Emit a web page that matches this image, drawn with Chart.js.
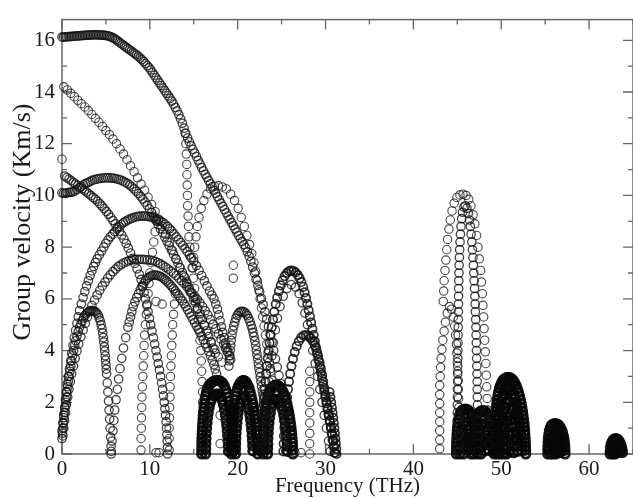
<!DOCTYPE html>
<html>
<head>
<meta charset="utf-8">
<script src="https://cdn.jsdelivr.net/npm/chart.js@4.4.1/dist/chart.umd.min.js"></script>
<style>
html,body{margin:0;padding:0;background:#fff;overflow:hidden;}
canvas{display:block;}
</style>
</head>
<body>
<canvas id="c" width="640" height="498"></canvas>
<script>
// ---- axis ticks / labels ----
const xTickValues = [0, 10, 20, 30, 40, 50, 60];
const yTickValues = [0, 2, 4, 6, 8, 10, 12, 14, 16];
const xLabel = 'Frequency (THz)';
const yLabel = 'Group velocity (Km/s)';

// ---- branches: [frequency THz, group velocity km/s] ----
const bTop = [[0,16.12],[0.18,16.12],[0.36,16.13],[0.54,16.13],[0.72,16.14],[0.9,16.14],[1.08,16.15],[1.26,16.15],[1.44,16.16],[1.62,16.16],[1.8,16.17],[1.98,16.17],[2.16,16.18],[2.34,16.18],[2.52,16.19],[2.7,16.19],[2.88,16.2],[3.06,16.2],[3.24,16.2],[3.42,16.21],[3.6,16.21],[3.78,16.21],[3.96,16.21],[4.14,16.21],[4.32,16.2],[4.5,16.2],[4.68,16.2],[4.86,16.19],[5.04,16.18],[5.22,16.17],[5.4,16.15],[5.58,16.13],[5.76,16.1],[5.94,16.07],[6.12,16.03],[6.3,15.98],[6.5,15.93],[6.7,15.88],[6.9,15.83],[7.1,15.78],[7.3,15.73],[7.5,15.68],[7.7,15.63],[7.9,15.58],[8.1,15.53],[8.3,15.48],[8.5,15.43],[8.7,15.37],[8.9,15.31],[9.1,15.25],[9.3,15.18],[9.5,15.1],[9.7,15.02],[9.9,14.94],[10.1,14.85],[10.3,14.75],[10.5,14.65],[10.7,14.55],[10.9,14.45],[11.1,14.35],[11.3,14.25],[11.5,14.15],[11.7,14.05],[11.9,13.95],[12.1,13.85],[12.3,13.75],[12.5,13.65],[12.7,13.53],[12.9,13.4],[13.1,13.27],[13.3,13.12],[13.5,12.96],[13.7,12.79],[13.9,12.6],[14.1,12.4],[14.3,12.22],[14.5,12.07],[14.7,11.92],[14.9,11.78],[15.1,11.64],[15.3,11.5],[15.5,11.36],[15.7,11.22],[15.9,11.08],[16.1,10.95],[16.3,10.82],[16.5,10.7],[16.7,10.57],[16.9,10.45],[17.1,10.33],[17.3,10.2],[17.5,10.08],[17.7,9.95],[17.9,9.83],[18.1,9.7],[18.3,9.58],[18.5,9.45],[18.7,9.33],[18.9,9.2],[19.1,9.08],[19.3,8.95],[19.5,8.83],[19.7,8.7],[19.9,8.58],[20.1,8.45],[20.3,8.33],[20.5,8.22],[20.7,8.1],[20.9,7.98],[21.1,7.82],[21.3,7.65],[21.5,7.45],[21.7,7.23],[21.9,7.0],[22.1,6.76],[22.3,6.52],[22.5,6.27],[22.7,6.02],[22.9,5.77],[23.1,5.5],[23.3,5.22],[23.5,4.93],[23.7,4.63],[23.9,4.32],[24.1,4.0],[24.3,3.68],[24.5,3.36],[24.7,3.04],[24.9,2.72],[25.1,2.4],[25.3,2.08],[25.5,1.76],[25.7,1.44],[25.9,1.12],[26.1,0.8],[26.3,0.48]];
const bSecond = [[0.2,14.2],[0.6,14.08],[1.0,13.95],[1.4,13.82],[1.8,13.68],[2.2,13.55],[2.6,13.42],[3.0,13.28],[3.4,13.13],[3.8,12.98],[4.2,12.83],[4.6,12.67],[5.0,12.51],[5.4,12.35],[5.8,12.18],[6.2,12.0],[6.6,11.8],[7.0,11.6],[7.4,11.38],[7.8,11.15],[8.2,10.92],[8.6,10.68],[9.0,10.44],[9.4,10.2],[9.8,9.93],[10.2,9.65],[10.6,9.37],[11.0,9.08],[11.4,8.8],[11.8,8.5],[12.2,8.18],[12.6,7.86],[13.0,7.54],[13.4,7.22],[13.8,6.9],[14.2,6.58],[14.6,6.26],[15.0,5.94],[15.4,5.62],[15.8,5.3],[16.2,4.98],[16.6,4.66],[17.0,4.34],[17.4,4.04],[17.8,3.76],[18.2,3.55]];
const bFall107 = [[0.3,10.75],[0.55,10.69],[0.8,10.63],[1.05,10.57],[1.3,10.5],[1.55,10.44],[1.8,10.38],[2.05,10.32],[2.3,10.26],[2.55,10.2],[2.8,10.13],[3.05,10.06],[3.3,9.99],[3.55,9.92],[3.8,9.85],[4.05,9.77],[4.3,9.68],[4.55,9.59],[4.8,9.49],[5.05,9.38],[5.3,9.27],[5.55,9.15],[5.8,9.03],[6.05,8.9],[6.3,8.77],[6.55,8.62],[6.8,8.47],[7.05,8.31],[7.3,8.14],[7.55,7.96],[7.8,7.77],[8.05,7.57],[8.3,7.37],[8.55,7.16],[8.8,6.95],[9.0,6.75],[9.2,6.5],[9.35,6.25],[9.5,6.0],[9.65,5.75],[9.8,5.5],[9.95,5.25],[10.1,5.0],[10.25,4.75],[10.4,4.5],[10.55,4.25],[10.7,4.0],[10.83,3.75],[10.96,3.5],[11.09,3.25],[11.22,3.0],[11.34,2.75],[11.45,2.5],[11.55,2.25],[11.64,2.0],[11.72,1.75],[11.79,1.5],[11.85,1.25],[11.9,1.0],[11.94,0.75],[11.97,0.5],[12.0,0.25],[12.02,0.0]];
const bArc106 = [[0,10.1],[0.2,10.08],[0.4,10.08],[0.6,10.1],[0.8,10.12],[1.0,10.12],[1.2,10.13],[1.45,10.17],[1.7,10.23],[1.95,10.29],[2.2,10.35],[2.45,10.41],[2.7,10.46],[2.95,10.5],[3.2,10.54],[3.45,10.58],[3.7,10.61],[3.95,10.63],[4.2,10.65],[4.45,10.66],[4.7,10.67],[4.95,10.68],[5.2,10.68],[5.45,10.68],[5.7,10.67],[5.95,10.66],[6.2,10.64],[6.45,10.62],[6.7,10.59],[6.95,10.55],[7.2,10.51],[7.45,10.46],[7.7,10.4],[7.95,10.33],[8.2,10.25],[8.45,10.16],[8.7,10.07],[8.95,9.97],[9.2,9.86],[9.45,9.74],[9.7,9.62],[9.95,9.48],[10.2,9.34],[10.45,9.19],[10.7,9.03],[10.95,8.87],[11.2,8.71],[11.45,8.55],[11.7,8.39],[11.95,8.23],[12.2,8.06],[12.45,7.89],[12.7,7.72],[12.95,7.55],[13.2,7.38],[13.45,7.2],[13.7,7.02],[13.95,6.84],[14.2,6.65],[14.45,6.45],[14.7,6.25],[14.95,6.05],[15.2,5.85],[15.45,5.64],[15.7,5.42],[15.95,5.2],[16.2,4.98],[16.45,4.76],[16.7,4.54],[16.95,4.32],[17.2,4.1],[17.45,3.9]];
const bArc92 = [[0,0.9],[0.1,1.2],[0.2,1.5],[0.3,1.8],[0.4,2.1],[0.5,2.4],[0.6,2.7],[0.72,3.0],[0.85,3.3],[0.98,3.6],[1.1,3.9],[1.25,4.2],[1.4,4.5],[1.55,4.78],[1.7,5.05],[1.85,5.3],[2.0,5.55],[2.2,5.8],[2.4,6.05],[2.6,6.28],[2.8,6.5],[3.0,6.7],[3.2,6.9],[3.4,7.08],[3.6,7.25],[3.8,7.4],[4.0,7.55],[4.25,7.7],[4.5,7.85],[4.75,8.0],[5.0,8.15],[5.25,8.28],[5.5,8.4],[5.75,8.5],[6.0,8.6],[6.25,8.7],[6.5,8.8],[6.75,8.88],[7.0,8.95],[7.25,9.0],[7.5,9.05],[7.75,9.09],[8.0,9.12],[8.25,9.15],[8.5,9.18],[8.75,9.19],[9.0,9.2],[9.25,9.2],[9.5,9.2],[9.75,9.19],[10.0,9.17],[10.25,9.15],[10.5,9.12],[10.75,9.09],[11.0,9.05],[11.25,9.0],[11.5,8.95],[11.75,8.88],[12.0,8.8],[12.25,8.71],[12.5,8.62],[12.75,8.51],[13.0,8.4],[13.25,8.29],[13.5,8.18],[13.75,8.07],[14.0,7.95],[14.25,7.83],[14.5,7.7],[14.75,7.58],[15.0,7.45],[15.3,7.28],[15.6,7.1],[15.9,6.9],[16.2,6.7],[16.5,6.5],[16.8,6.3],[17.05,6.15],[17.3,6.0],[17.5,5.8],[17.7,5.6],[17.85,5.38],[18.0,5.15],[18.15,4.92],[18.3,4.7],[18.45,4.5],[18.6,4.3],[18.75,4.12],[18.9,3.95],[19.05,3.8],[19.2,3.65]];
const bArc75 = [[0.1,0.7],[0.2,1.0],[0.3,1.3],[0.4,1.6],[0.5,1.9],[0.65,2.2],[0.8,2.5],[0.95,2.8],[1.1,3.1],[1.3,3.4],[1.5,3.7],[1.7,3.98],[1.9,4.25],[2.15,4.53],[2.4,4.8],[2.65,5.05],[2.9,5.3],[3.15,5.53],[3.4,5.75],[3.7,5.95],[4.0,6.15],[4.3,6.33],[4.6,6.5],[4.9,6.65],[5.2,6.8],[5.5,6.93],[5.8,7.05],[6.1,7.15],[6.4,7.25],[6.7,7.32],[7.0,7.38],[7.3,7.43],[7.6,7.47],[7.9,7.5],[8.2,7.52],[8.5,7.53],[8.8,7.53],[9.1,7.53],[9.4,7.52],[9.7,7.51],[10.0,7.5],[10.3,7.48],[10.6,7.45],[10.9,7.4],[11.2,7.35],[11.5,7.29],[11.8,7.22],[12.1,7.15],[12.4,7.07],[12.7,6.99],[13.0,6.9],[13.3,6.8],[13.6,6.7],[13.9,6.59],[14.2,6.48],[14.5,6.35],[14.8,6.22],[15.1,6.1],[15.4,5.98],[15.7,5.84],[16.0,5.7],[16.3,5.54],[16.6,5.38],[16.9,5.2],[17.2,5.02],[17.5,4.84],[17.8,4.65],[18.1,4.45],[18.4,4.25],[18.6,4.1],[18.8,3.95]];
const bArc69 = [[5.6,0.1],[5.7,0.5],[5.8,0.9],[5.9,1.3],[6.0,1.7],[6.15,2.1],[6.3,2.5],[6.45,2.9],[6.6,3.3],[6.8,3.7],[7.0,4.1],[7.25,4.5],[7.5,4.9],[7.65,5.1],[7.8,5.3],[7.95,5.5],[8.1,5.7],[8.3,5.88],[8.5,6.05],[8.7,6.2],[8.9,6.35],[9.1,6.48],[9.3,6.6],[9.5,6.7],[9.7,6.78],[9.9,6.84],[10.1,6.88],[10.3,6.91],[10.5,6.92],[10.7,6.92],[10.9,6.9],[11.1,6.88],[11.3,6.85],[11.5,6.8],[11.7,6.75],[11.9,6.69],[12.1,6.62],[12.3,6.55],[12.5,6.47],[12.7,6.39],[12.9,6.3],[13.1,6.21],[13.3,6.12],[13.5,6.02],[13.7,5.92],[13.9,5.81],[14.1,5.7],[14.3,5.58],[14.5,5.45],[14.7,5.33],[14.9,5.2],[15.1,5.08],[15.3,4.95],[15.5,4.83],[15.7,4.7],[15.9,4.56],[16.1,4.42],[16.3,4.27],[16.5,4.12],[16.7,3.96],[16.9,3.8],[17.1,3.63],[17.3,3.45],[17.45,3.28],[17.6,3.1]];
const bArc55 = [[0,0.6],[0.05,0.8],[0.1,1.0],[0.15,1.2],[0.2,1.4],[0.27,1.6],[0.35,1.8],[0.42,2.0],[0.5,2.2],[0.57,2.4],[0.65,2.6],[0.72,2.8],[0.8,3.0],[0.9,3.2],[1.0,3.4],[1.1,3.6],[1.2,3.8],[1.32,4.0],[1.45,4.2],[1.57,4.38],[1.7,4.55],[1.85,4.73],[2.0,4.9],[2.15,5.03],[2.3,5.15],[2.45,5.26],[2.6,5.35],[2.75,5.42],[2.9,5.47],[3.05,5.51],[3.2,5.53],[3.35,5.55],[3.5,5.55],[3.65,5.53],[3.8,5.5],[3.95,5.45],[4.1,5.38],[4.22,5.27],[4.35,5.15],[4.45,5.0],[4.55,4.85],[4.63,4.68],[4.7,4.5],[4.76,4.33],[4.82,4.15],[4.87,3.98],[4.92,3.8],[4.96,3.63],[5.0,3.45],[5.04,3.28],[5.08,3.1],[5.15,2.75],[5.22,2.4],[5.3,2.05],[5.36,1.7],[5.42,1.35],[5.48,1.0],[5.53,0.65],[5.58,0.3],[5.6,0.0]];
const bCol9 = [[10.8,9.0],[10.6,8.6],[10.45,8.2],[10.3,7.8],[10.15,7.4],[10.0,7.0],[9.9,6.6],[9.8,6.2],[9.7,5.8],[9.6,5.4],[9.5,5.0],[9.4,4.6],[9.35,4.2],[9.3,3.8],[9.25,3.4],[9.2,3.0],[9.15,2.6],[9.1,2.2],[9.08,1.8],[9.05,1.4],[9.03,1.0],[9.0,0.6],[9.0,0.15]];
const bCol12 = [[12.9,6.2],[12.8,5.8],[12.7,5.4],[12.6,5.0],[12.55,4.6],[12.5,4.2],[12.45,3.8],[12.4,3.4],[12.35,3.0],[12.3,2.6],[12.3,2.2],[12.25,1.8],[12.25,1.4],[12.2,1.0],[12.2,0.6],[12.2,0.15]];
const bSteep14 = [[14.0,12.4],[14.1,12.0],[14.15,11.6],[14.2,11.2],[14.22,10.8],[14.25,10.4],[14.28,10.0],[14.3,9.6],[14.35,9.2],[14.4,8.8],[14.45,8.4],[14.55,8.0],[14.65,7.6],[14.8,7.2],[14.95,6.8],[15.1,6.4],[15.25,6.0],[15.4,5.6],[15.5,5.2],[15.6,4.8],[15.7,4.4],[15.8,4.0],[15.85,3.6],[15.9,3.2],[15.95,2.8],[16.0,2.4],[16.0,2.0],[16.05,1.6],[16.05,1.2],[16.1,0.8],[16.1,0.4],[16.1,0.05]];
const bArc103 = [[14.9,7.2],[15.0,7.6],[15.1,8.0],[15.25,8.4],[15.4,8.8],[15.6,9.15],[15.85,9.5],[16.15,9.8],[16.5,10.05],[16.9,10.25],[17.35,10.35],[17.8,10.38],[18.25,10.33],[18.7,10.25],[19.2,10.05],[19.65,9.8],[20.05,9.5],[20.4,9.15],[20.75,8.8],[21.05,8.45],[21.35,8.1],[21.6,7.75],[21.85,7.4],[22.05,7.05],[22.25,6.7],[22.4,6.35],[22.55,6.0],[22.7,5.65],[22.85,5.3],[23.0,4.95],[23.15,4.6],[23.3,4.25],[23.45,3.9],[23.6,3.55],[23.75,3.2],[23.9,2.85],[24.0,2.5]];
const bArc55b = [[19.0,3.4],[19.05,3.6],[19.1,3.8],[19.15,4.0],[19.2,4.2],[19.27,4.4],[19.35,4.6],[19.45,4.78],[19.55,4.95],[19.67,5.1],[19.8,5.25],[19.95,5.36],[20.1,5.45],[20.27,5.5],[20.45,5.52],[20.62,5.51],[20.8,5.48],[20.95,5.42],[21.1,5.35],[21.25,5.24],[21.4,5.12],[21.52,4.98],[21.65,4.85],[21.75,4.7],[21.85,4.55],[21.95,4.38],[22.05,4.2],[22.12,4.02],[22.2,3.85],[22.27,3.68],[22.35,3.5],[22.42,3.32],[22.5,3.15],[22.57,2.98],[22.65,2.8],[22.72,2.62],[22.8,2.45],[22.88,2.28],[22.95,2.1],[23.02,1.92],[23.1,1.75],[23.2,1.4],[23.3,1.05],[23.4,0.7],[23.5,0.35]];
const bArc71 = [[22.7,0.1],[22.72,0.4],[22.75,0.7],[22.78,1.0],[22.82,1.3],[22.87,1.6],[22.93,1.9],[23.0,2.2],[23.07,2.5],[23.15,2.8],[23.24,3.1],[23.33,3.4],[23.42,3.7],[23.52,4.0],[23.63,4.3],[23.75,4.6],[23.88,4.9],[24.02,5.2],[24.17,5.5],[24.33,5.8],[24.5,6.05],[24.7,6.3],[24.9,6.52],[25.12,6.72],[25.35,6.88],[25.6,7.0],[25.85,7.07],[26.1,7.09],[26.35,7.08],[26.6,7.02],[26.85,6.92],[27.05,6.8],[27.25,6.65],[27.45,6.46],[27.62,6.25],[27.78,6.03],[27.93,5.8],[28.08,5.56],[28.22,5.32],[28.36,5.08],[28.5,4.84],[28.64,4.6],[28.78,4.36],[28.92,4.12],[29.06,3.88],[29.2,3.64],[29.33,3.4],[29.46,3.16],[29.59,2.92],[29.72,2.68],[29.85,2.44],[29.98,2.2],[30.11,1.96],[30.24,1.72],[30.37,1.48],[30.5,1.24],[30.63,1.0],[30.76,0.76],[30.88,0.52],[31.0,0.28],[31.1,0.05]];
const bArc71in = [[23.1,0.3],[23.15,0.8],[23.22,1.3],[23.3,1.8],[23.42,2.3],[23.56,2.8],[23.72,3.3],[23.88,3.8],[24.06,4.3],[24.28,4.8],[24.52,5.25],[24.82,5.7],[25.18,6.1],[25.6,6.4],[26.1,6.55],[26.6,6.45],[27.0,6.2],[27.35,5.85],[27.65,5.45],[27.95,5.0],[28.25,4.5],[28.55,4.0],[28.82,3.5],[29.1,3.0],[29.35,2.5],[29.6,2.0],[29.85,1.5],[30.1,1.0],[30.35,0.5],[30.55,0.1]];
const bArc45 = [[25.2,0.1],[25.23,0.4],[25.27,0.7],[25.32,1.0],[25.38,1.3],[25.45,1.6],[25.53,1.9],[25.62,2.2],[25.72,2.5],[25.84,2.8],[25.97,3.1],[26.12,3.4],[26.3,3.68],[26.5,3.94],[26.72,4.17],[26.96,4.36],[27.22,4.5],[27.5,4.58],[27.78,4.6],[28.05,4.56],[28.3,4.48],[28.55,4.36],[28.78,4.2],[28.98,4.0],[29.16,3.78],[29.32,3.55],[29.47,3.3],[29.61,3.05],[29.74,2.8],[29.87,2.55],[29.99,2.3],[30.11,2.05],[30.23,1.8],[30.35,1.55],[30.47,1.3],[30.59,1.05],[30.7,0.8],[30.8,0.55],[30.9,0.3],[31.0,0.05]];
const bLeg31 = [[30.45,2.4],[30.55,2.2],[30.64,2.0],[30.72,1.8],[30.8,1.6],[30.87,1.4],[30.94,1.2],[31.0,1.0],[31.06,0.8],[31.12,0.6],[31.17,0.4],[31.22,0.2],[31.25,0.0]];
const bCol28 = [[28.2,3.2],[28.2,2.8],[28.2,2.4],[28.2,2.0],[28.2,1.6],[28.2,1.2],[28.2,0.8],[28.2,0.4],[28.2,0.0]];
const bSingles = [[0,11.4],[10.7,5.9],[11.4,5.8],[10.7,0.05],[11.05,0.05],[19.5,7.3],[19.5,6.8],[18.0,1.5],[18.0,0.4],[26.5,0.05],[27.2,0.05]];
const hump1out = [[15.9,0.0],[15.9,0.15],[15.91,0.3],[15.92,0.45],[15.93,0.6],[15.95,0.75],[15.97,0.9],[15.99,1.05],[16.02,1.2],[16.05,1.35],[16.08,1.5],[16.12,1.65],[16.17,1.8],[16.22,1.95],[16.28,2.1],[16.36,2.25],[16.45,2.4],[16.57,2.53],[16.72,2.64],[16.9,2.72],[17.1,2.78],[17.3,2.82],[17.5,2.84],[17.7,2.85],[17.9,2.84],[18.1,2.8],[18.3,2.74],[18.48,2.63],[18.64,2.5],[18.78,2.36],[18.9,2.2],[19.0,2.05],[19.08,1.9],[19.15,1.75],[19.21,1.6],[19.26,1.45],[19.31,1.3],[19.35,1.15],[19.39,1.0],[19.42,0.85],[19.45,0.7],[19.47,0.55],[19.49,0.4],[19.5,0.25],[19.5,0.1]];
const hump1in = [[16.35,0.0],[16.36,0.2],[16.37,0.4],[16.39,0.6],[16.42,0.8],[16.46,1.0],[16.51,1.2],[16.57,1.4],[16.65,1.6],[16.75,1.8],[16.88,1.98],[17.05,2.13],[17.25,2.25],[17.45,2.31],[17.65,2.33],[17.85,2.3],[18.05,2.22],[18.22,2.08],[18.38,1.9],[18.5,1.7],[18.6,1.5],[18.68,1.3],[18.75,1.1],[18.81,0.9],[18.86,0.7],[18.9,0.5],[18.93,0.3],[18.95,0.1]];
const hump2out = [[19.3,0.0],[19.3,0.15],[19.31,0.3],[19.32,0.45],[19.33,0.6],[19.35,0.75],[19.37,0.9],[19.39,1.05],[19.42,1.2],[19.45,1.35],[19.48,1.5],[19.52,1.65],[19.57,1.8],[19.62,1.95],[19.69,2.1],[19.77,2.25],[19.87,2.4],[19.99,2.54],[20.14,2.66],[20.3,2.76],[20.48,2.82],[20.66,2.85],[20.84,2.82],[21.0,2.76],[21.15,2.66],[21.3,2.54],[21.42,2.4],[21.53,2.25],[21.63,2.1],[21.72,1.95],[21.8,1.8],[21.87,1.65],[21.93,1.5],[21.99,1.35],[22.04,1.2],[22.09,1.05],[22.13,0.9],[22.17,0.75],[22.2,0.6],[22.23,0.45],[22.26,0.3],[22.28,0.15],[22.3,0.0]];
const hump2in = [[19.75,0.0],[19.76,0.2],[19.77,0.4],[19.79,0.6],[19.82,0.8],[19.86,1.0],[19.91,1.2],[19.97,1.4],[20.05,1.6],[20.15,1.8],[20.28,1.98],[20.45,2.15],[20.65,2.25],[20.85,2.22],[21.02,2.1],[21.16,1.92],[21.28,1.72],[21.38,1.52],[21.46,1.32],[21.53,1.12],[21.59,0.92],[21.64,0.72],[21.68,0.52],[21.71,0.32],[21.73,0.12]];
const hump3out = [[22.9,0.0],[22.9,0.15],[22.91,0.3],[22.92,0.45],[22.93,0.6],[22.95,0.75],[22.97,0.9],[23.0,1.05],[23.03,1.2],[23.06,1.35],[23.1,1.5],[23.15,1.65],[23.21,1.8],[23.28,1.95],[23.36,2.1],[23.46,2.25],[23.58,2.38],[23.72,2.49],[23.88,2.57],[24.05,2.63],[24.25,2.66],[24.45,2.67],[24.65,2.64],[24.85,2.58],[25.03,2.5],[25.2,2.38],[25.35,2.25],[25.48,2.1],[25.6,1.95],[25.7,1.8],[25.79,1.65],[25.87,1.5],[25.94,1.35],[26.0,1.2],[26.06,1.05],[26.11,0.9],[26.15,0.75],[26.19,0.6],[26.22,0.45],[26.25,0.3],[26.27,0.15],[26.28,0.0]];
const hump3in = [[23.4,0.0],[23.41,0.2],[23.42,0.4],[23.44,0.6],[23.47,0.8],[23.51,1.0],[23.56,1.2],[23.63,1.4],[23.72,1.6],[23.84,1.8],[24.0,1.97],[24.2,2.08],[24.4,2.12],[24.6,2.1],[24.8,2.01],[24.98,1.87],[25.12,1.7],[25.24,1.5],[25.34,1.3],[25.42,1.1],[25.49,0.9],[25.55,0.7],[25.59,0.5],[25.62,0.3],[25.64,0.1]];
// ---- high-frequency group ----
const bArc57 = [[43.0,0.2],[43.0,0.55],[43.0,0.9],[43.0,1.25],[43.0,1.6],[43.0,1.95],[43.0,2.3],[43.0,2.65],[43.05,3.0],[43.1,3.35],[43.15,3.7],[43.25,4.05],[43.35,4.4],[43.5,4.75],[43.65,5.1],[43.85,5.45],[44.1,5.7],[44.35,5.6],[44.55,5.3],[44.7,4.95],[44.8,4.6],[44.9,4.25],[44.95,3.9],[45.0,3.55],[45.05,3.2],[45.1,2.85],[45.12,2.5],[45.15,2.15],[45.18,1.8],[45.2,1.45],[45.22,1.1],[45.23,0.75],[45.25,0.4],[45.25,0.05]];
const bArc10out = [[43.4,5.9],[43.45,6.3],[43.5,6.7],[43.6,7.1],[43.7,7.5],[43.8,7.9],[43.9,8.3],[44.05,8.7],[44.2,9.05],[44.4,9.4],[44.65,9.7],[44.95,9.92],[45.3,10.02],[45.65,10.05],[46.0,10.0],[46.3,9.85],[46.55,9.6],[46.8,9.25],[47.0,8.9],[47.2,8.45],[47.35,8.0],[47.5,7.55],[47.65,7.1],[47.75,6.65],[47.85,6.2],[47.92,5.75],[48.0,5.3],[48.05,4.85],[48.12,4.4],[48.18,3.95],[48.25,3.5],[48.3,3.05],[48.35,2.6],[48.4,2.15],[48.45,1.7],[48.5,1.25],[48.55,0.8],[48.6,0.35]];
const bArc10in = [[44.95,0.1],[44.96,0.4],[44.97,0.7],[44.98,1.0],[44.99,1.3],[45.0,1.6],[45.0,1.9],[45.01,2.2],[45.02,2.5],[45.03,2.8],[45.04,3.1],[45.05,3.4],[45.06,3.7],[45.07,4.0],[45.08,4.3],[45.09,4.6],[45.1,4.9],[45.11,5.2],[45.12,5.5],[45.13,5.8],[45.14,6.1],[45.15,6.4],[45.17,6.7],[45.19,7.0],[45.21,7.3],[45.24,7.6],[45.27,7.9],[45.31,8.2],[45.36,8.5],[45.42,8.8],[45.5,9.1],[45.6,9.35],[45.75,9.55],[45.92,9.6],[46.1,9.5],[46.25,9.3],[46.38,9.05],[46.48,8.8],[46.57,8.5],[46.65,8.2],[46.72,7.9],[46.78,7.6],[46.83,7.3],[46.88,7.0],[46.92,6.7],[46.96,6.4],[47.0,6.1],[47.03,5.8],[47.06,5.5],[47.09,5.2],[47.12,4.9],[47.14,4.6],[47.16,4.3],[47.18,4.0],[47.2,3.7],[47.22,3.4],[47.24,3.1],[47.26,2.8],[47.27,2.5],[47.28,2.2],[47.29,1.9],[47.3,1.6],[47.31,1.3],[47.32,1.0],[47.33,0.7],[47.34,0.4],[47.35,0.1]];
const hump4aOut = [[44.9,0.0],[44.9,0.15],[44.91,0.3],[44.92,0.45],[44.94,0.6],[44.96,0.75],[44.99,0.9],[45.03,1.05],[45.08,1.2],[45.15,1.35],[45.25,1.5],[45.38,1.61],[45.55,1.69],[45.75,1.73],[45.95,1.74],[46.15,1.72],[46.35,1.66],[46.52,1.56],[46.66,1.44],[46.77,1.3],[46.86,1.15],[46.93,1.0],[46.98,0.85],[47.02,0.7],[47.05,0.55],[47.07,0.4],[47.08,0.25],[47.09,0.1]];
const hump4aIn = [[45.3,0.0],[45.31,0.2],[45.33,0.4],[45.37,0.6],[45.43,0.8],[45.52,1.0],[45.65,1.15],[45.85,1.24],[46.05,1.23],[46.22,1.12],[46.34,0.96],[46.43,0.78],[46.49,0.6],[46.53,0.4],[46.55,0.2],[46.56,0.0]];
const hump4aCore = [[45.7,0.0],[45.72,0.25],[45.78,0.5],[45.92,0.7],[46.06,0.62],[46.13,0.4],[46.15,0.15]];
const hump4bOut = [[46.9,0.0],[46.9,0.15],[46.91,0.3],[46.92,0.45],[46.94,0.6],[46.96,0.75],[46.99,0.9],[47.03,1.05],[47.08,1.2],[47.15,1.33],[47.25,1.45],[47.38,1.56],[47.55,1.63],[47.75,1.67],[47.95,1.68],[48.15,1.66],[48.35,1.6],[48.52,1.5],[48.66,1.38],[48.77,1.25],[48.86,1.1],[48.93,0.95],[48.98,0.8],[49.02,0.65],[49.05,0.5],[49.07,0.35],[49.08,0.2],[49.09,0.05]];
const hump4bIn = [[47.3,0.0],[47.31,0.2],[47.33,0.4],[47.37,0.6],[47.43,0.8],[47.52,0.98],[47.65,1.1],[47.85,1.17],[48.05,1.16],[48.22,1.07],[48.35,0.92],[48.44,0.74],[48.5,0.55],[48.54,0.35],[48.56,0.15]];
const hump4bCore = [[47.7,0.0],[47.72,0.25],[47.78,0.5],[47.92,0.66],[48.06,0.58],[48.13,0.38],[48.15,0.12]];
const hump5out = [[49.2,0.0],[49.2,0.15],[49.21,0.3],[49.22,0.45],[49.23,0.6],[49.24,0.75],[49.26,0.9],[49.28,1.05],[49.3,1.2],[49.33,1.35],[49.36,1.5],[49.4,1.65],[49.44,1.8],[49.49,1.95],[49.55,2.1],[49.62,2.25],[49.7,2.4],[49.8,2.54],[49.92,2.66],[50.06,2.77],[50.22,2.86],[50.4,2.92],[50.6,2.95],[50.8,2.96],[51.0,2.95],[51.2,2.91],[51.38,2.84],[51.55,2.75],[51.7,2.64],[51.84,2.52],[51.97,2.38],[52.08,2.24],[52.18,2.1],[52.27,1.95],[52.35,1.8],[52.42,1.65],[52.48,1.5],[52.54,1.35],[52.59,1.2],[52.63,1.05],[52.67,0.9],[52.7,0.75],[52.73,0.6],[52.75,0.45],[52.77,0.3],[52.78,0.15],[52.79,0.0]];
const hump5mid1 = [[49.55,0.0],[49.55,0.2],[49.56,0.4],[49.58,0.6],[49.6,0.8],[49.63,1.0],[49.67,1.2],[49.72,1.4],[49.78,1.6],[49.86,1.8],[49.96,2.0],[50.09,2.18],[50.25,2.34],[50.43,2.46],[50.62,2.53],[50.82,2.55],[51.02,2.52],[51.22,2.44],[51.4,2.32],[51.56,2.17],[51.7,2.0],[51.82,1.82],[51.92,1.64],[52.01,1.45],[52.09,1.26],[52.16,1.07],[52.22,0.88],[52.27,0.69],[52.31,0.5],[52.34,0.31],[52.36,0.12]];
const hump5mid2 = [[49.9,0.0],[49.91,0.2],[49.92,0.4],[49.94,0.6],[49.97,0.8],[50.01,1.0],[50.07,1.2],[50.15,1.4],[50.26,1.6],[50.4,1.8],[50.58,1.97],[50.8,2.06],[51.02,2.02],[51.2,1.88],[51.34,1.7],[51.46,1.5],[51.56,1.3],[51.64,1.1],[51.71,0.9],[51.77,0.7],[51.81,0.5],[51.84,0.3],[51.86,0.1]];
const hump5in = [[50.25,0.0],[50.26,0.25],[50.29,0.5],[50.34,0.75],[50.42,1.0],[50.54,1.25],[50.72,1.45],[50.92,1.47],[51.1,1.3],[51.22,1.05],[51.3,0.8],[51.35,0.55],[51.38,0.3],[51.4,0.05]];
const hump5core = [[50.6,0.0],[50.62,0.3],[50.68,0.6],[50.8,0.85],[50.94,0.7],[51.0,0.4],[51.02,0.1]];
const hump6out = [[55.3,0.0],[55.3,0.15],[55.31,0.3],[55.33,0.45],[55.36,0.6],[55.41,0.75],[55.48,0.9],[55.58,1.02],[55.72,1.11],[55.9,1.16],[56.1,1.18],[56.3,1.17],[56.5,1.13],[56.68,1.06],[56.84,0.96],[56.97,0.84],[57.07,0.71],[57.15,0.57],[57.2,0.43],[57.24,0.29],[57.26,0.15],[57.27,0.0]];
const hump6mid = [[55.6,0.0],[55.61,0.2],[55.64,0.4],[55.7,0.58],[55.8,0.73],[55.95,0.83],[56.15,0.88],[56.35,0.86],[56.55,0.78],[56.72,0.64],[56.84,0.47],[56.92,0.3],[56.96,0.12]];
const hump6in = [[55.9,0.0],[55.91,0.15],[55.95,0.32],[56.05,0.46],[56.2,0.52],[56.38,0.48],[56.52,0.36],[56.6,0.2],[56.63,0.05]];
const hump6core = [[56.2,0.0],[56.22,0.15],[56.3,0.25],[56.36,0.1]];
const hump7out = [[62.4,0.0],[62.41,0.12],[62.44,0.24],[62.5,0.36],[62.6,0.46],[62.73,0.54],[62.9,0.59],[63.08,0.6],[63.26,0.57],[63.42,0.5],[63.56,0.41],[63.67,0.3],[63.75,0.18],[63.8,0.06]];
const hump7in = [[62.7,0.0],[62.72,0.12],[62.8,0.24],[62.93,0.32],[63.1,0.34],[63.27,0.29],[63.4,0.19],[63.47,0.07]];
const hump7core = [[62.95,0.0],[63.05,0.1],[63.15,0.05]];

// grouping by how densely the modes are sampled in the figure
const sparseBranches = [bSecond,bCol9,bCol12,bSteep14,bArc103,bCol28,bSingles,bArc57,bArc10out];
const denseBranches = [bTop,bFall107,bArc106,bArc92,bArc75,bArc69,bArc55,bArc55b,bArc71in,bArc10in];
const heavyBranches = [bArc71,bArc45,bLeg31];
const solidBranches = [hump1out,hump1in,hump2out,hump2in,hump3out,hump3in,hump4aOut,hump4aIn,hump4aCore,hump4bOut,hump4bIn,hump4bCore,hump5out,hump5mid1,hump5mid2,hump5in,hump5core,hump6out,hump6mid,hump6in,hump6core,hump7out,hump7in,hump7core];

function ds(b, w, col) {
  return {
    data: b.map(p => ({x: p[0], y: p[1]})),
    showLine: false,
    pointStyle: 'circle',
    pointRadius: 4.2,
    pointBorderWidth: w,
    pointBorderColor: col,
    pointBackgroundColor: 'rgba(0,0,0,0)',
    clip: false
  };
}
const datasets = [
  ...sparseBranches.map(b => ds(b, 1.1, 'rgba(25,25,25,0.8)')),
  ...denseBranches.map(b => ds(b, 1.3, 'rgba(20,20,20,0.8)')),
  ...heavyBranches.map(b => ds(b, 1.7, 'rgba(15,15,15,0.85)')),
  ...solidBranches.map(b => ds(b, 2.8, 'rgba(8,8,8,0.92)'))
];

const serif = "'Liberation Serif','DejaVu Serif',serif";

const frameTicks = {
  id: 'frameTicks',
  beforeDatasetsDraw(chart) {
    const {ctx, chartArea: a, scales: {x, y}} = chart;
    ctx.save();
    ctx.strokeStyle = '#666';
    ctx.lineWidth = 1.5;
    ctx.strokeRect(a.left, a.top, a.right - a.left, a.bottom - a.top);
    ctx.lineWidth = 1.3;
    ctx.beginPath();
    for (let v = 0; v <= 16; v++) {
      const py = y.getPixelForValue(v);
      const len = v % 2 === 0 ? 10 : 5;
      ctx.moveTo(a.left, py); ctx.lineTo(a.left + len, py);
      ctx.moveTo(a.right, py); ctx.lineTo(a.right - len, py);
    }
    for (let f = 0; f <= 65; f += 5) {
      const px = x.getPixelForValue(f);
      const len = f % 10 === 0 ? 10 : 5;
      ctx.moveTo(px, a.bottom); ctx.lineTo(px, a.bottom - len);
      ctx.moveTo(px, a.top); ctx.lineTo(px, a.top + len);
    }
    ctx.stroke();
    // y axis title, placed like the reference (slightly above centre)
    ctx.fillStyle = '#1a1a1a';
    ctx.font = "26px " + serif;
    ctx.textAlign = 'center';
    ctx.textBaseline = 'middle';
    ctx.translate(23, 222);
    ctx.rotate(-Math.PI / 2);
    ctx.fillText(yLabel, 0, 0);
    ctx.restore();
  }
};

new Chart(document.getElementById('c'), {
  type: 'scatter',
  data: {datasets},
  options: {
    responsive: false,
    animation: false,
    devicePixelRatio: 1,
    layout: {padding: {top: 14, right: 1.4, left: 0, bottom: 0}},
    plugins: {legend: {display: false}, tooltip: {enabled: false}},
    scales: {
      x: {
        type: 'linear', min: 0, max: 65,
        afterFit(s) { s.height = 44; },
        grid: {display: false, drawTicks: false},
        border: {display: false},
        afterBuildTicks(s) { s.ticks = xTickValues.map(v => ({value: v})); },
        ticks: {padding: 3, color: '#1a1a1a', font: {family: serif, size: 21}, maxRotation: 0, autoSkip: false},
        title: {display: true, text: xLabel, color: '#1a1a1a', font: {family: serif, size: 21, lineHeight: 1}, padding: {top: 0, bottom: 1}}
      },
      y: {
        type: 'linear', min: 0, max: 16.8,
        afterFit(s) { s.width = 62; },
        grid: {display: false, drawTicks: false},
        border: {display: false},
        afterBuildTicks(s) { s.ticks = yTickValues.map(v => ({value: v})); },
        ticks: {padding: 7, color: '#1a1a1a', font: {family: serif, size: 21}, autoSkip: false},
        title: {display: false}
      }
    }
  },
  plugins: [frameTicks]
});
</script>
</body>
</html>
